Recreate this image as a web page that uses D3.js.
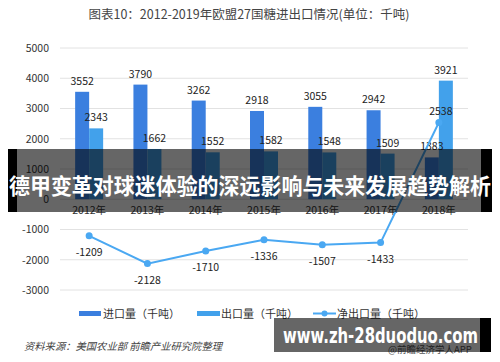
<!DOCTYPE html>
<html><head><meta charset="utf-8">
<script src="https://cdn.jsdelivr.net/npm/d3@7"></script>
<style>body{margin:0;background:#fff}svg{display:block}</style>
</head><body>
<svg id="c" width="500" height="362"></svg>
<script>
const categories = ["2012年","2013年","2014年","2015年","2016年","2017年","2018年"];
const importVals = [3552,3790,3262,2918,3055,2942,1383];
const exportVals = [2343,1662,1552,1582,1548,1509,3921];
const netVals = [-1209,-2128,-1710,-1336,-1507,-1433,2538];
const yTicks = [-3000,-2000,-1000,0,1000,2000,3000,4000,5000];
const seriesNames = ["进口量（千吨）","出口量（千吨）","净出口量（千吨）"];
const titleText = "图表10：2012-2019年欧盟27国糖进出口情况(单位：千吨)";
const sourceText = "资料来源：美国农业部 前瞻产业研究院整理";
const bannerText = "德甲变革对球迷体验的深远影响与未来发展趋势解析";
const urlText = "www.zh-28duoduo.com";
const appText = "@前瞻经济学人APP";

const FONT = "'Noto Sans CJK SC','Noto Sans',sans-serif";
const cImp = "#3b7fdf", cExp = "#42a1eb", cNet = "#4aa8f2";
const svg = d3.select("#c").style("font-family", FONT);

const x = d3.scaleBand().domain(categories).range([60,468]).padding(0);
const y = d3.scaleLinear().domain([-3000,5000]).range([290,48]);
const bw = 14;

svg.append("text").attr("x",249).attr("y",19).attr("text-anchor","middle")
  .attr("font-size",12.5).attr("fill","#444").text(titleText);

// grid
svg.append("g").selectAll("line").data(yTicks).join("line")
  .attr("x1",60).attr("x2",468).attr("y1",d=>y(d)).attr("y2",d=>y(d))
  .attr("stroke","#e2e2e2").attr("stroke-width",1);
// y axis labels
const yAxis = d3.axisLeft(y).tickValues(yTicks).tickSize(0).tickPadding(0).tickFormat(d=>String(d));
const ga = svg.append("g").attr("transform","translate(49,0)").call(yAxis);
ga.select(".domain").remove();
ga.selectAll("text").attr("font-size",10.5).attr("fill","#333").attr("font-family",FONT);

// bars
svg.append("g").selectAll("rect").data(importVals).join("rect")
  .attr("x",(d,i)=>x(categories[i])+x.bandwidth()/2-bw).attr("width",bw)
  .attr("y",d=>y(d)).attr("height",d=>y(0)-y(d)).attr("fill",cImp);
svg.append("g").selectAll("rect").data(exportVals).join("rect")
  .attr("x",(d,i)=>x(categories[i])+x.bandwidth()/2).attr("width",bw)
  .attr("y",d=>y(d)).attr("height",d=>y(0)-y(d)).attr("fill",cExp);

// x labels
const xAxis = d3.axisBottom(x).tickSize(0).tickPadding(0);
const gx = svg.append("g").attr("transform","translate(0,207)").call(xAxis);
gx.select(".domain").remove();
gx.selectAll("text").attr("font-size",10.5).attr("fill","#333").attr("font-family",FONT);

// bar labels
svg.append("g").selectAll("text").data(importVals).join("text")
  .attr("x",(d,i)=>x(categories[i])+x.bandwidth()/2-bw/2).attr("y",d=>y(d)-7)
  .attr("text-anchor","middle").attr("font-size",10.5).attr("fill","#222").text(d=>d);
svg.append("g").selectAll("text").data(exportVals).join("text")
  .attr("x",(d,i)=>x(categories[i])+x.bandwidth()/2+bw/2).attr("y",d=>y(d)-7)
  .attr("text-anchor","middle").attr("font-size",10.5).attr("fill","#222").text(d=>d);

// net line
const cx = (d,i)=>x(categories[i])+x.bandwidth()/2;
svg.append("path").datum(netVals)
  .attr("d",d3.line().x(cx).y(d=>y(d)))
  .attr("fill","none").attr("stroke",cNet).attr("stroke-width",2);
svg.append("g").selectAll("circle").data(netVals).join("circle")
  .attr("cx",cx).attr("cy",d=>y(d)).attr("r",3.5).attr("fill",cNet);
svg.append("g").selectAll("text").data(netVals).join("text")
  .attr("x",(d,i)=>cx(d,i)+(d>0?2:0)).attr("y",d=>d>0?y(d)-7:y(d)+20)
  .attr("text-anchor","middle").attr("font-size",10.5).attr("fill","#222").text(d=>d);

// legend
const lg = svg.append("g");
lg.append("rect").attr("x",79).attr("y",311).attr("width",22).attr("height",5).attr("fill",cImp);
lg.append("text").attr("x",103).attr("y",317.5).attr("font-size",11).attr("fill","#333").text(seriesNames[0]);
lg.append("rect").attr("x",197).attr("y",311).attr("width",23).attr("height",5).attr("fill",cExp);
lg.append("text").attr("x",221).attr("y",317.5).attr("font-size",11).attr("fill","#333").text(seriesNames[1]);
lg.append("line").attr("x1",313).attr("x2",336).attr("y1",313.5).attr("y2",313.5).attr("stroke",cNet).attr("stroke-width",2);
lg.append("circle").attr("cx",324.5).attr("cy",313.5).attr("r",3).attr("fill",cNet);
lg.append("text").attr("x",337).attr("y",317.5).attr("font-size",11).attr("fill","#333").text(seriesNames[2]);

// source
svg.append("text").attr("x",24).attr("y",349.5).attr("font-size",10).attr("font-style","italic")
  .attr("fill","#444").attr("textLength",198).attr("lengthAdjust","spacingAndGlyphs").text(sourceText);
svg.append("text").attr("x",388).attr("y",353).attr("font-size",9.5).attr("fill","#555").text(appText);

// banner overlay
svg.append("rect").attr("x",8).attr("y",149).attr("width",484).attr("height",63).attr("fill","rgba(0,0,0,0.6)");
svg.append("rect").attr("x",8).attr("y",149).attr("width",9).attr("height",63).attr("fill","#000");
svg.append("rect").attr("x",481).attr("y",149).attr("width",11).attr("height",63).attr("fill","#000");
svg.append("text").attr("x",250).attr("y",193.5).attr("text-anchor","middle")
  .attr("font-size",22).attr("font-weight","bold").attr("fill","#fff")
  .attr("textLength",482).attr("lengthAdjust","spacingAndGlyphs").text(bannerText);

svg.append("rect").attr("x",274).attr("y",318).attr("width",217).attr("height",34).attr("fill","rgba(0,0,0,0.6)");
svg.append("rect").attr("x",480).attr("y",318).attr("width",11).attr("height",34).attr("fill","#000");
svg.append("text").attr("x",283).attr("y",343).attr("font-size",21).attr("font-weight","bold")
  .attr("font-family","'DejaVu Sans',sans-serif").attr("fill","#fff")
  .attr("textLength",195).attr("lengthAdjust","spacingAndGlyphs").text(urlText);
</script>
</body></html>
